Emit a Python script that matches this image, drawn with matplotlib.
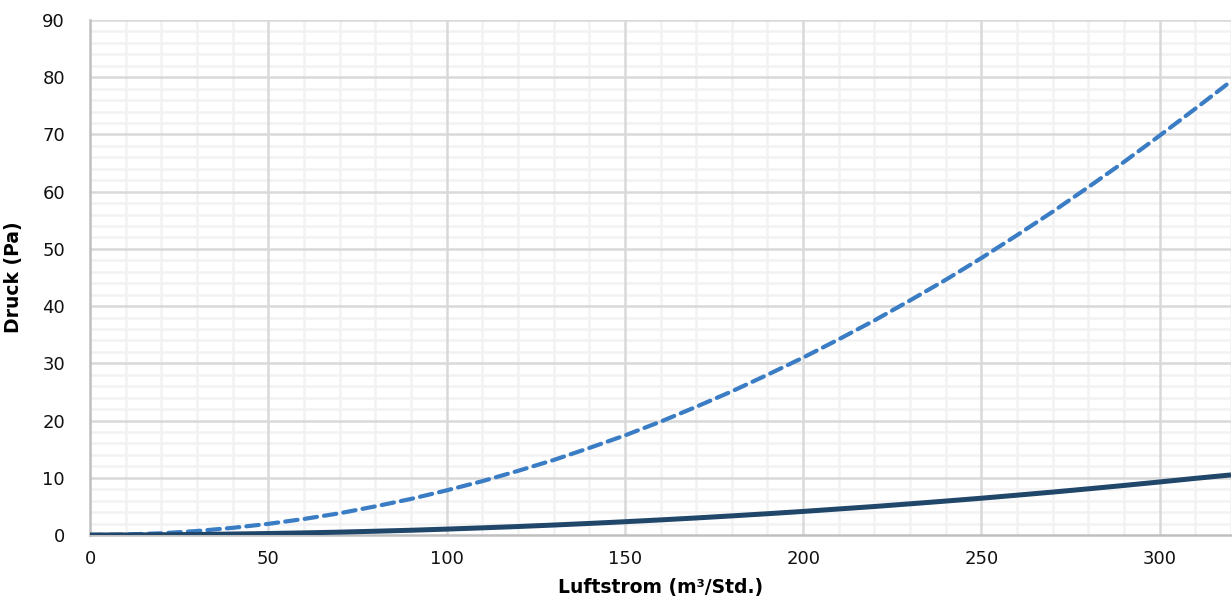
import matplotlib
matplotlib.use("Agg")
import matplotlib.pyplot as plt
from matplotlib.ticker import MultipleLocator

# values
luftstrom = [0, 10, 20, 30, 40, 50, 60, 70, 80, 90, 100, 110, 120, 130, 140, 150, 160,
             170, 180, 190, 200, 210, 220, 230, 240, 250, 260, 270, 280, 290, 300, 310, 320]
druck_dashed = [0, 0.08, 0.3, 0.7, 1.25, 1.95, 2.8, 3.8, 5.0, 6.3, 7.8, 9.4, 11.2, 13.1,
                15.2, 17.4, 19.8, 22.4, 25.1, 28.0, 31.0, 34.2, 37.5, 41.0, 44.6, 48.4,
                52.4, 56.5, 60.8, 65.2, 69.8, 74.5, 79.3]
druck_solid = [0, 0.01, 0.04, 0.09, 0.17, 0.26, 0.37, 0.5, 0.66, 0.83, 1.03, 1.25, 1.48,
               1.74, 2.02, 2.32, 2.64, 2.98, 3.34, 3.72, 4.12, 4.55, 4.98, 5.45, 5.93, 6.43,
               6.96, 7.5, 8.07, 8.66, 9.27, 9.9, 10.5]

plt.rcParams['font.family'] = ['DejaVu Sans']

fig = plt.figure(figsize=(12.32, 6.10), dpi=100)
ax = fig.add_axes([90 / 1232, 75 / 610, 1141 / 1232, 515 / 610])

ax.plot(luftstrom, druck_dashed, color='#3b7dc4', lw=3.0, dashes=(3.0, 1.7),
        dash_capstyle='round', zorder=3)
ax.plot(luftstrom, druck_solid, color='#20466a', lw=3.6, solid_capstyle='butt', zorder=4)

ax.set_xlim(0, 320)
ax.set_ylim(0, 90)
ax.xaxis.set_major_locator(MultipleLocator(50))
ax.xaxis.set_minor_locator(MultipleLocator(10))
ax.yaxis.set_major_locator(MultipleLocator(10))
ax.yaxis.set_minor_locator(MultipleLocator(2))

# minor grid from the axis, major grid on top of it so it stays unbroken
ax.grid(which='minor', color='#f2f2f2', lw=1.8)
ax.set_axisbelow(True)
for xv in ax.get_xticks():
    if 0 < xv <= 320:
        ax.axvline(xv, color='#d9d9d9', lw=1.8, zorder=1)
for yv in ax.get_yticks():
    if 0 < yv <= 90:
        ax.axhline(yv, color='#d9d9d9', lw=1.8, zorder=1)

for s in ['top', 'right']:
    ax.spines[s].set_visible(False)
for s in ['left', 'bottom']:
    ax.spines[s].set_color('#bfbfbf')
    ax.spines[s].set_linewidth(1.8)
    ax.spines[s].set_zorder(2)

ax.tick_params(which='both', length=0)
ax.tick_params(axis='y', pad=18, labelsize=13, labelcolor='#111111')
ax.tick_params(axis='x', pad=11, labelsize=13, labelcolor='#111111')

ax.set_xlabel('Luftstrom (m³/Std.)', fontsize=13.5, fontweight='bold', labelpad=7)
ax.set_ylabel('Druck (Pa)', fontsize=13.5, fontweight='bold', labelpad=14)

fig.savefig('out.png', dpi=100)
